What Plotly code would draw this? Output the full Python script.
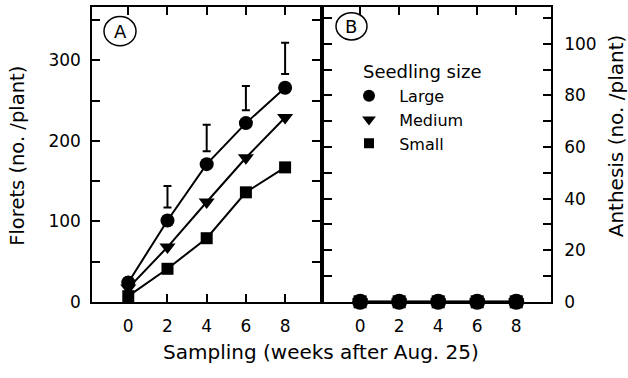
import plotly.graph_objects as go

# ---------------- data ----------------
weeks = [0, 2, 4, 6, 8]
series_names = ["Large", "Medium", "Small"]

florets_large = [24, 101, 171, 222, 266]
florets_medium = [17, 68, 124, 179, 229]
florets_small = [7, 41, 79, 136, 167]

anthesis_large = [0, 0, 0, 0, 0]
anthesis_medium = [0, 0, 0, 0, 0]
anthesis_small = [0, 0, 0, 0, 0]

lsd_weeks = [2, 4, 6, 8]
lsd_low = [117, 187, 238, 283]
lsd_high = [144, 220, 268, 322]

florets_ticks = [0, 100, 200, 300]
anthesis_ticks = [0, 20, 40, 60, 80, 100]
week_ticks = [0, 2, 4, 6, 8]

# ---------------- style ----------------
W, H = 628, 378
FONT = "DejaVu Sans"
symbols = {"Large": "circle", "Medium": "triangle-down", "Small": "square"}
msize = {"Large": 14, "Medium": 14, "Small": 12}
msize_b = {"Large": 16, "Medium": 14, "Small": 13}
florets = {"Large": florets_large, "Medium": florets_medium, "Small": florets_small}
anthesis = {"Large": anthesis_large, "Medium": anthesis_medium, "Small": anthesis_small}

def px_x(p):
    return p / W

def px_y(p):
    return 1 - p / H

PANEL_TOP, PANEL_BOTTOM = 7, 310
A_LEFT, A_RIGHT = 92, 320
B_LEFT, B_RIGHT = 324, 551
XR = [-1.85, 9.78]
YR_A = [0, 366.5]
YR_B = [0, 114.3]

fig = go.Figure()

for name in series_names:
    fig.add_trace(go.Scatter(
        x=weeks, y=florets[name], mode="lines+markers",
        line=dict(color="black", width=2),
        marker=dict(symbol=symbols[name], size=msize[name], color="black"),
        xaxis="x", yaxis="y", showlegend=False, cliponaxis=False))

# LSD bars (panel A)
mid = [(a + b) / 2 for a, b in zip(lsd_low, lsd_high)]
half = [(b - a) / 2 for a, b in zip(lsd_low, lsd_high)]
fig.add_trace(go.Scatter(
    x=lsd_weeks, y=mid, mode="markers",
    marker=dict(size=1, color="rgba(0,0,0,0)"),
    error_y=dict(type="data", array=half, visible=True, color="black",
                 thickness=2, width=4),
    xaxis="x", yaxis="y", showlegend=False))

EXT = 22  # px of extra room below the frame
b_scale = (PANEL_BOTTOM - PANEL_TOP) / (YR_B[1] - YR_B[0])
yr_b_ext = [YR_B[0] - EXT / b_scale, YR_B[1]]
for name in series_names:
    fig.add_trace(go.Scatter(
        x=weeks, y=anthesis[name], mode="lines+markers",
        line=dict(color="black", width=2),
        marker=dict(symbol=symbols[name], size=msize_b[name], color="black"),
        xaxis="x3", yaxis="y3", showlegend=False, cliponaxis=False))

# legend entries
legend_sizes = {"Large": 12, "Medium": 12, "Small": 10}
for name in series_names:
    fig.add_trace(go.Scatter(
        x=[None], y=[None], mode="markers", name="  " + name,
        marker=dict(symbol=symbols[name], size=legend_sizes[name], color="black"),
        xaxis="x2", yaxis="y2", showlegend=True))

ydom = [px_y(PANEL_BOTTOM), px_y(PANEL_TOP)]
axis_common = dict(showline=True, linecolor="black", linewidth=1.5,
                   mirror="ticks", ticks="inside", ticklen=8, tickwidth=1.5,
                   tickcolor="black", showgrid=False, zeroline=False,
                   layer="below traces",
                   tickfont=dict(family=FONT, size=17, color="black"))

fig.update_layout(
    width=W, height=H,
    margin=dict(l=0, r=0, t=0, b=0),
    paper_bgcolor="white", plot_bgcolor="rgba(0,0,0,0)",
    font=dict(family=FONT, color="black"),
    xaxis=dict(domain=[px_x(A_LEFT), px_x(A_RIGHT)], range=XR, anchor="y",
               tickvals=week_ticks, ticklabelstandoff=8, **axis_common),
    yaxis=dict(domain=ydom, range=YR_A, anchor="x",
               tickvals=florets_ticks, ticklabelstandoff=6,
               minor=dict(dtick=50, ticks="inside", ticklen=8, tickwidth=1.5,
                          tickcolor="black", showgrid=False),
               **axis_common),
    xaxis2=dict(domain=[px_x(B_LEFT), px_x(B_RIGHT)], range=XR, anchor="y2",
                tickvals=week_ticks, ticklabelstandoff=8, **axis_common),
    yaxis2=dict(domain=ydom, range=YR_B, anchor="x2", side="right",
                tickvals=anthesis_ticks, ticklabelstandoff=8,
                minor=dict(dtick=10, ticks="inside", ticklen=8, tickwidth=1.5,
                           tickcolor="black", showgrid=False),
                **axis_common),
    xaxis3=dict(domain=[px_x(B_LEFT), px_x(B_RIGHT)], range=XR, anchor="y3",
                visible=False),
    yaxis3=dict(domain=[px_y(PANEL_BOTTOM + EXT), px_y(PANEL_TOP)],
                range=yr_b_ext, anchor="x3", visible=False),
    legend=dict(x=px_x(349), y=px_y(81), xanchor="left", yanchor="top",
                bgcolor="rgba(0,0,0,0)", borderwidth=0,
                font=dict(family=FONT, size=16, color="black"),
                tracegroupgap=0),
    showlegend=True,
)

annotations = [
    dict(text="Sampling (weeks after Aug. 25)", x=px_x(321), y=px_y(362),
         xref="paper", yref="paper", xanchor="center", yanchor="middle",
         showarrow=False, font=dict(family=FONT, size=20, color="black")),
    dict(text="Florets (no. /plant)", x=px_x(18), y=px_y(160), textangle=-90,
         xref="paper", yref="paper", xanchor="center", yanchor="middle",
         showarrow=False, font=dict(family=FONT, size=19.5, color="black")),
    dict(text="Anthesis (no. /plant)", x=px_x(616), y=px_y(140), textangle=-90,
         xref="paper", yref="paper", xanchor="center", yanchor="middle",
         showarrow=False, font=dict(family=FONT, size=20, color="black")),
    dict(text="Seedling size", x=px_x(361), y=px_y(73),
         xref="paper", yref="paper", xanchor="left", yanchor="middle",
         showarrow=False, font=dict(family=FONT, size=18, color="black")),
    dict(text="A", x=px_x(120), y=px_y(32),
         xref="paper", yref="paper", xanchor="center", yanchor="middle",
         showarrow=False, font=dict(family=FONT, size=18, color="black")),
    dict(text="B", x=px_x(351), y=px_y(27),
         xref="paper", yref="paper", xanchor="center", yanchor="middle",
         showarrow=False, font=dict(family=FONT, size=18, color="black")),
]
fig.update_layout(annotations=annotations)

shapes = [
    dict(type="circle", xref="paper", yref="paper",
         x0=px_x(104), x1=px_x(136), y0=px_y(47), y1=px_y(17),
         line=dict(color="black", width=1.5)),
    dict(type="circle", xref="paper", yref="paper",
         x0=px_x(336), x1=px_x(367), y0=px_y(41), y1=px_y(13),
         line=dict(color="black", width=1.5)),
]
fig.update_layout(shapes=shapes)

fig.write_html("out.html")
